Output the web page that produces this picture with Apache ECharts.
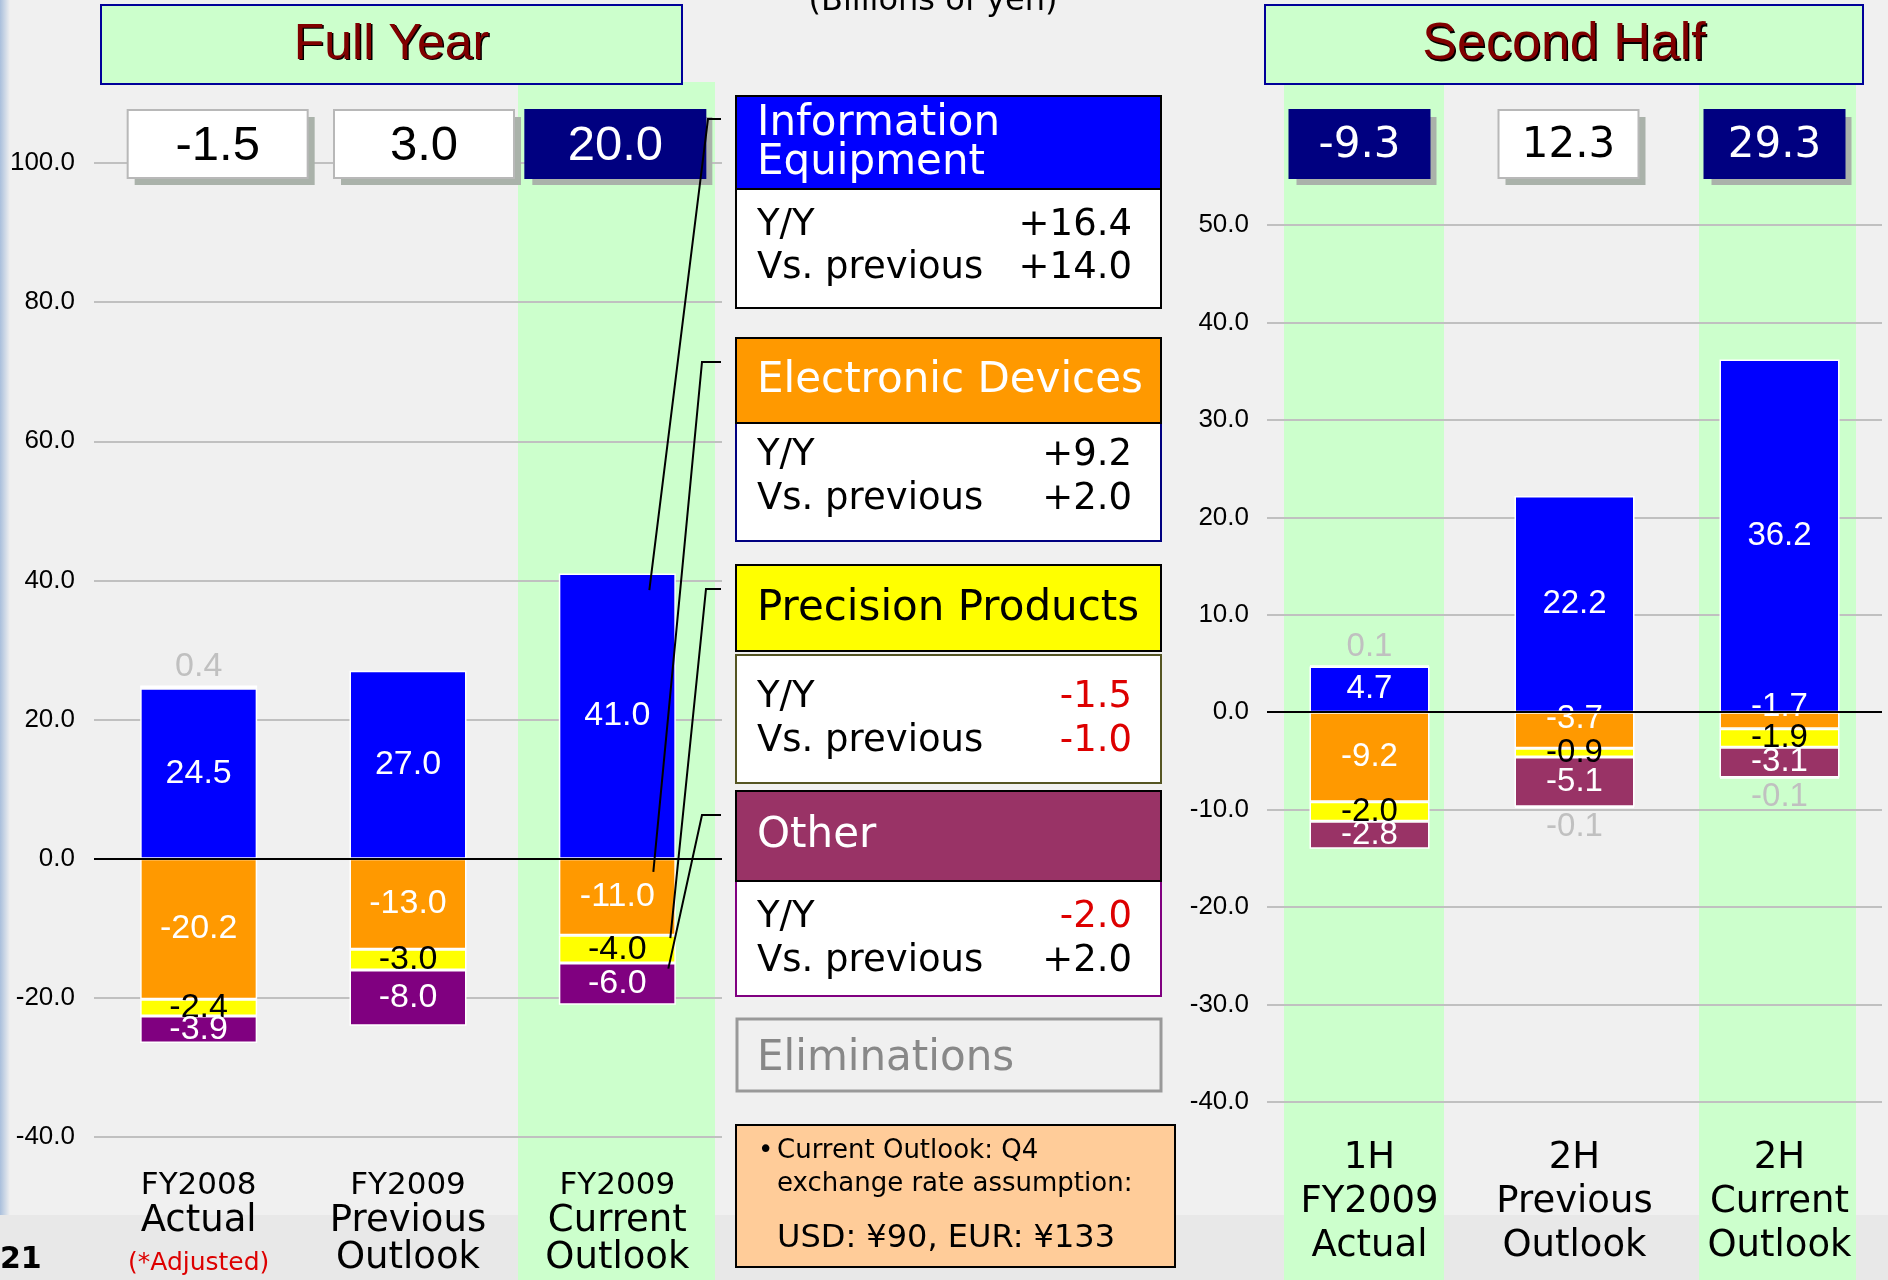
<!DOCTYPE html>
<html>
<head>
<meta charset="utf-8">
<script src="https://cdn.jsdelivr.net/npm/echarts@6/dist/echarts.min.js"></script>
<style>
  html, body { margin: 0; padding: 0; background: #f0f0f0; }
  #chart { width: 1888px; height: 1280px; }
</style>
</head>
<body>
<div id="chart"></div>
<script>
// Full year (billions of yen)
const fullCategories = ['FY2008\nActual\n(*Adjusted)', 'FY2009\nPrevious\nOutlook', 'FY2009\nCurrent\nOutlook'];
const fullInfo = [24.5, 27.0, 41.0];
const fullElec = [-20.2, -13.0, -11.0];
const fullPrec = [-2.4, -3.0, -4.0];
const fullOther = [-3.9, -8.0, -6.0];
const fullElim = [0.4, null, null];
const fullTotals = [-1.5, 3.0, 20.0];
const fullHighlight = [2];

// Second half
const halfCategories = ['1H\nFY2009\nActual', '2H\nPrevious\nOutlook', '2H\nCurrent\nOutlook'];
const halfInfo = [4.7, 22.2, 36.2];
const halfElec = [-9.2, -3.7, -1.7];
const halfPrec = [-2.0, -0.9, -1.9];
const halfOther = [-2.8, -5.1, -3.1];
const halfElim = [0.1, -0.1, -0.1];
const halfTotals = [-9.3, 12.3, 29.3];
const halfHighlight = [0, 2];

// segment boxes in the middle
const segNames = ['Information\nEquipment', 'Electronic Devices', 'Precision Products', 'Other'];
const segYoY = ['+16.4', '+9.2', '-1.5', '-2.0'];
const segVsPrev = ['+14.0', '+2.0', '-1.0', '+2.0'];

// where the leader lines touch the current outlook bar
const leaderValues = [38.6, -1.9, -11.4, -15.8];

const chart = echarts.init(document.getElementById('chart'));

const fmt = v => v.toFixed(1);

function segSeries(name, data, color, grid, labelColor, fontSize) {
  return {
    name: name,
    type: 'bar',
    stack: 'g' + grid,
    xAxisIndex: grid,
    yAxisIndex: grid,
    barWidth: grid === 0 ? 117 : 120,
    data: data,
    itemStyle: { color: color, borderColor: '#fff', borderWidth: 1.5 },
    label: {
      show: true,
      position: 'inside',
      color: labelColor,
      fontFamily: 'Liberation Sans',
      fontSize: fontSize,
      formatter: p => fmt(p.value)
    }
  };
}

function elimSeries(data, grid, fontSize) {
  const s = segSeries('Eliminations' + grid, data.map(v => v == null ? null : {
    value: v,
    label: { position: v > 0 ? 'top' : 'bottom' }
  }), '#c0c0c0', grid, '#c0c0c0', fontSize);
  s.label.distance = 2;
  return s;
}

function totalsSeries(data, grid, boxW, font, darkSet, xOffs) {
  return {
    type: 'custom',
    xAxisIndex: grid,
    yAxisIndex: grid,
    clip: false,
    z: 5,
    data: data.map((v, i) => [i, v]),
    renderItem: function (params, api) {
      const idx = api.value(0);
      const cx = api.coord([idx, 0])[0] + xOffs[idx];
      const dark = darkSet.includes(idx);
      const x = cx - boxW / 2, y = 110, h = 68;
      return {
        type: 'group',
        children: [
          { type: 'rect', shape: { x: x + 7, y: y + 7, width: boxW, height: h }, style: { fill: '#aab2aa' } },
          { type: 'rect', shape: { x: x, y: y, width: boxW, height: h },
            style: { fill: dark ? '#000080' : '#fff', stroke: dark ? '#000080' : '#b8b8b8', lineWidth: 2 } },
          { type: 'text', style: { text: fmt(api.value(1)), x: cx, y: y + h / 2 + 2, align: 'center',
            verticalAlign: 'middle', font: font, fill: dark ? '#fff' : '#000' } }
        ]
      };
    }
  };
}

const leaderTickY = [119, 362, 589, 815];
const leaderElbowX = [708, 702, 706, 702];
const leaderDx = [32, 36, 53, 51];

const leaderSeries = {
  type: 'custom',
  xAxisIndex: 0,
  yAxisIndex: 0,
  clip: false,
  z: 6,
  data: leaderValues.map((v, i) => [2, v, i]),
  renderItem: function (params, api) {
    const i = api.value(2);
    const p = api.coord([api.value(0), api.value(1)]);
    return {
      type: 'polyline',
      shape: { points: [[721, leaderTickY[i]], [leaderElbowX[i], leaderTickY[i]], [p[0] + leaderDx[i], p[1]]] },
      style: { stroke: '#000', lineWidth: 2, fill: null }
    };
  }
};

const zeroLine = {
  silent: true,
  symbol: 'none',
  label: { show: false },
  lineStyle: { color: '#000', width: 2, type: 'solid' },
  data: [{ yAxis: 0 }]
};

function catFormatter(styleFor) {
  return value => value.split('\n').map((s, i) => '{' + styleFor(s, i) + '|' + s + '}').join('\n');
}

// background pieces and the middle column
const graphics = [];
graphics.push({ type: 'rect', z: -101, shape: { x: 0, y: 1215, width: 1888, height: 65 }, style: { fill: '#e8e8e8' } });
graphics.push({ type: 'rect', z: -101, shape: { x: 0, y: 0, width: 10, height: 1215 },
  style: { fill: new echarts.graphic.LinearGradient(0, 0, 1, 0, [{ offset: 0, color: '#a9bfdc' }, { offset: 1, color: '#f0f0f0' }]) } });
graphics.push({ type: 'rect', z: -100, shape: { x: 518, y: 82, width: 197, height: 1198 }, style: { fill: '#ccffcc' } });
graphics.push({ type: 'rect', z: -100, shape: { x: 1284, y: 84, width: 160, height: 1196 }, style: { fill: '#ccffcc' } });
graphics.push({ type: 'rect', z: -100, shape: { x: 1699, y: 84, width: 157, height: 1196 }, style: { fill: '#ccffcc' } });

function titleBox(x, w, label, size) {
  graphics.push({ type: 'rect', z: 10, shape: { x: x, y: 5, width: w, height: 79 }, style: { fill: '#ccffcc', stroke: '#000099', lineWidth: 2 } });
  graphics.push({ type: 'text', z: 11, style: { text: label, x: x + w / 2 + 1.5, y: 46.5, align: 'center', verticalAlign: 'middle',
    font: size + 'px "Liberation Sans"', fill: '#000' } });
  graphics.push({ type: 'text', z: 12, style: { text: label, x: x + w / 2, y: 45, align: 'center', verticalAlign: 'middle',
    font: size + 'px "Liberation Sans"', fill: '#800000' } });
}
titleBox(101, 581, 'Full Year', 50);
titleBox(1265, 598, 'Second Half', 52);

graphics.push({ type: 'text', z: 10, style: { text: '(Billions of yen)', x: 933, y: 2, align: 'center', verticalAlign: 'middle',
  font: '32px "DejaVu Sans"', fill: '#000' } });

const boxes = [
  { head: [96, 189], body: [189, 308], fill: '#0000ff', text: '#fff', bodyStroke: '#000', headY: [124, 163], rows: [225, 268] },
  { head: [338, 423], body: [423, 541], fill: '#ff9900', text: '#fff', bodyStroke: '#000080', headY: [381], rows: [455, 499] },
  { head: [565, 651], body: [655, 783], fill: '#ffff00', text: '#000', bodyStroke: '#555522', headY: [609], rows: [697, 741] },
  { head: [791, 881], body: [881, 996], fill: '#993366', text: '#fff', bodyStroke: '#800080', headY: [836], rows: [917, 961] }
];
boxes.forEach((b, i) => {
  graphics.push({ type: 'rect', z: 10, shape: { x: 736, y: b.body[0], width: 425, height: b.body[1] - b.body[0] },
    style: { fill: '#fff', stroke: b.bodyStroke, lineWidth: 2 } });
  graphics.push({ type: 'rect', z: 11, shape: { x: 736, y: b.head[0], width: 425, height: b.head[1] - b.head[0] },
    style: { fill: b.fill, stroke: '#000', lineWidth: 2 } });
  segNames[i].split('\n').forEach((line, k) => {
    graphics.push({ type: 'text', z: 12, style: { text: line, x: 757, y: b.headY[k], verticalAlign: 'middle',
      font: '42px "DejaVu Sans"', fill: b.text } });
  });
  const vals = [segYoY[i], segVsPrev[i]];
  ['Y/Y', 'Vs. previous'].forEach((lab, k) => {
    graphics.push({ type: 'text', z: 12, style: { text: lab, x: 757, y: b.rows[k], verticalAlign: 'middle',
      font: '37px "DejaVu Sans"', fill: '#000' } });
    graphics.push({ type: 'text', z: 12, style: { text: vals[k], x: 1132, y: b.rows[k], align: 'right', verticalAlign: 'middle',
      font: '37px "DejaVu Sans"', fill: vals[k].charAt(0) === '-' ? '#dd0000' : '#000' } });
  });
});
graphics.push({ type: 'rect', z: 10, shape: { x: 737, y: 1019, width: 424, height: 72 }, style: { fill: '#f0f0f0', stroke: '#999', lineWidth: 3 } });
graphics.push({ type: 'text', z: 11, style: { text: 'Eliminations', x: 757, y: 1059, verticalAlign: 'middle', font: '42px "DejaVu Sans"', fill: '#888' } });

graphics.push({ type: 'rect', z: 10, shape: { x: 736, y: 1125, width: 439, height: 142 }, style: { fill: '#ffcc99', stroke: '#000', lineWidth: 2 } });
graphics.push({ type: 'text', z: 11, style: { text: '•', x: 758, y: 1151, verticalAlign: 'middle', font: '26px "DejaVu Sans"', fill: '#000' } });
graphics.push({ type: 'text', z: 11, style: { text: 'Current Outlook: Q4', x: 777, y: 1151, verticalAlign: 'middle', font: '26px "DejaVu Sans"', fill: '#000' } });
graphics.push({ type: 'text', z: 11, style: { text: 'exchange rate assumption:', x: 777, y: 1184, verticalAlign: 'middle', font: '26px "DejaVu Sans"', fill: '#000' } });
graphics.push({ type: 'text', z: 11, style: { text: 'USD: ¥90, EUR: ¥133', x: 777, y: 1239, verticalAlign: 'middle', font: '32px "DejaVu Sans"', fill: '#000' } });

graphics.push({ type: 'text', z: 11, style: { text: '21', x: 0, y: 1260, verticalAlign: 'middle', font: 'bold 30px "DejaVu Sans"', fill: '#000' } });

const yAxisBase = {
  axisLine: { show: false },
  axisTick: { show: false },
  splitLine: { lineStyle: { color: '#c0c0c0', width: 2 } },
  axisLabel: { color: '#000', fontFamily: 'Liberation Sans', fontSize: 26, formatter: fmt }
};

// the orange labels on the short 2H bars sit a little higher in the original
const halfElecShift = [0, -11, -14];

const halfElecSeries = segSeries('Electronic Devices 2H', halfElec.map((v, i) => ({
  value: v, label: { offset: [0, halfElecShift[i]] }
})), '#ff9900', 1, '#fff', 33);

const option = {
  animation: false,
  backgroundColor: '#f0f0f0',
  graphic: { elements: graphics },
  grid: [
    { left: 94, top: 163, width: 628, height: 974, outerBoundsMode: 'none', containLabel: false },
    { left: 1267, top: 225, width: 615, height: 877, outerBoundsMode: 'none', containLabel: false }
  ],
  xAxis: [
    {
      type: 'category', gridIndex: 0, data: fullCategories,
      axisLine: { show: false }, axisTick: { show: false }, splitLine: { show: false },
      axisLabel: {
        interval: 0, margin: 32,
        formatter: catFormatter((s, i) => i === 0 ? 'a' : (s.charAt(0) === '(' ? 'r' : 'b')),
        rich: {
          a: { fontFamily: 'DejaVu Sans', fontSize: 31, lineHeight: 34, color: '#000' },
          b: { fontFamily: 'DejaVu Sans', fontSize: 37, lineHeight: 37, color: '#000' },
          r: { fontFamily: 'DejaVu Sans', fontSize: 25, lineHeight: 46, color: '#dd0000' }
        }
      }
    },
    {
      type: 'category', gridIndex: 1, data: halfCategories,
      axisLine: { show: false }, axisTick: { show: false }, splitLine: { show: false },
      axisLabel: {
        interval: 0, margin: 34,
        formatter: catFormatter(() => 'b'),
        rich: { b: { fontFamily: 'DejaVu Sans', fontSize: 37, lineHeight: 44, color: '#000' } }
      }
    }
  ],
  yAxis: [
    Object.assign({ type: 'value', gridIndex: 0, min: -40, max: 100, interval: 20 }, yAxisBase,
      { axisLabel: Object.assign({}, yAxisBase.axisLabel, { margin: 19 }) }),
    Object.assign({ type: 'value', gridIndex: 1, min: -40, max: 50, interval: 10 }, yAxisBase,
      { axisLabel: Object.assign({}, yAxisBase.axisLabel, { margin: 18 }) })
  ],
  series: [
    Object.assign(segSeries('Information Equipment', fullInfo, '#0000ff', 0, '#fff', 34), { markLine: zeroLine }),
    segSeries('Electronic Devices', fullElec, '#ff9900', 0, '#fff', 34),
    segSeries('Precision Products', fullPrec, '#ffff00', 0, '#000', 34),
    segSeries('Other', fullOther, '#800080', 0, '#fff', 34),
    elimSeries(fullElim, 0, 34),
    totalsSeries(fullTotals, 0, 180, '49px "Liberation Sans"', fullHighlight, [19, 16, -2]),
    leaderSeries,

    Object.assign(segSeries('Information Equipment 2H', halfInfo, '#0000ff', 1, '#fff', 33), { markLine: zeroLine }),
    halfElecSeries,
    segSeries('Precision Products 2H', halfPrec, '#ffff00', 1, '#000', 33),
    segSeries('Other 2H', halfOther, '#993366', 1, '#fff', 33),
    elimSeries(halfElim, 1, 33),
    totalsSeries(halfTotals, 1, 140, '42px "DejaVu Sans"', halfHighlight, [-10, -6, -5])
  ]
};

chart.setOption(option);
window.addEventListener('resize', () => chart.resize());
</script>
</body>
</html>
